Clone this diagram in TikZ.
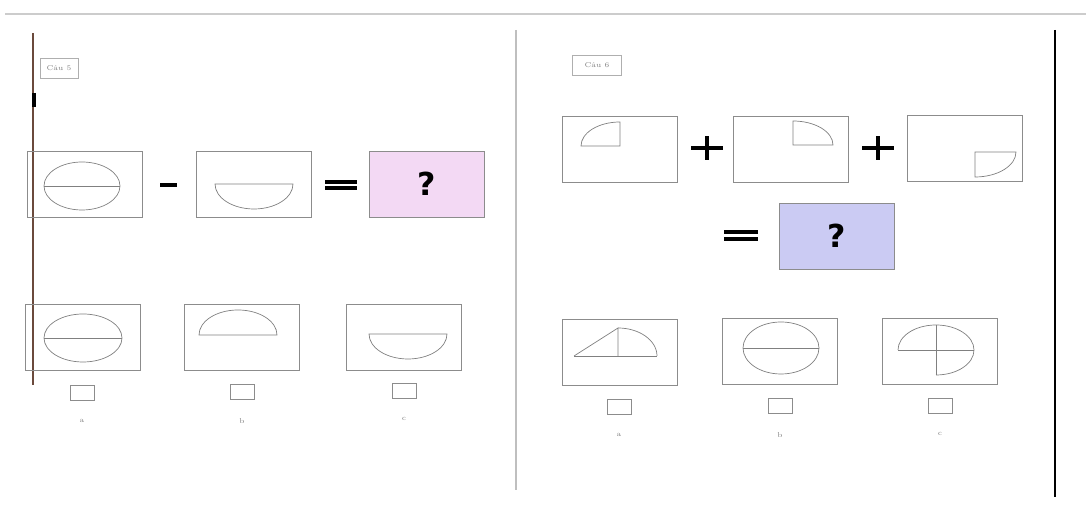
\documentclass[tikz,border=0pt]{standalone}
\usepackage{fontspec}
\usepackage{xcolor}
\usepackage{tikz}
\usetikzlibrary{positioning}
\newfontfamily\qfont{DejaVu Sans}

\definecolor{framegray}{HTML}{8C8C8C}
\definecolor{pinkfill}{HTML}{F3D9F4}
\definecolor{bluefill}{HTML}{CBCBF3}
\definecolor{brownline}{HTML}{6B4A3C}

\begin{document}
\begin{tikzpicture}[
x=0.02cm, y=0.02cm,
figbox/.style={
rectangle,
draw=framegray,
minimum width=2.3cm,
minimum height=1.32cm
},
qbox/.style={
figbox,
font=\qfont\bfseries\fontsize{18}{18}\selectfont
},
tickbox/.style={
rectangle,
draw=framegray,
minimum width=0.48cm,
minimum height=0.3cm
},
tag/.style={
rectangle,
draw=framegray!70,
minimum height=0.4cm,
font=\fontsize{4}{4}\selectfont,
text=gray
},
choice/.style={
font=\fontsize{4}{4}\selectfont,
text=gray
},
shape line/.style={
draw=gray,
thin
},
sign/.style={
line width=2.4pt
}
]
\useasboundingbox (0,0) rectangle (1086,513);

% frame lines
\coordinate (topl) at (5,499);
\coordinate (topr) at (1086,499);
\draw[gray!40, line width=0.6pt] (topl) -- (topr);
\coordinate (lt) at (33,480);
\coordinate (lb) at (33,128);
\draw[brownline, line width=1.5pt] (lt) -- (lb);
\coordinate (mt) at (34,420);
\coordinate (mb) at (34,406);
\draw[black, line width=2pt] (mt) -- (mb);
\coordinate (ct) at (516,483);
\coordinate (cb) at (516,23);
\draw[gray!50, line width=0.6pt] (ct) -- (cb);
\coordinate (rt) at (1055,483);
\coordinate (rb) at (1055,16);
\draw[black, line width=1.6pt] (rt) -- (rb);

% left panel
\node[tag, minimum width=0.76cm] (tag5) at (59,445) {Câu 5};

\node[figbox] (a1) at (85,329) {};
\node[figbox] (a2) at (254,329) {};
\node[qbox, fill=pinkfill] (aq) at (427,329) {?};
\draw[shape line] (82,327) ellipse[x radius=38, y radius=24];
\draw[shape line] (44,327) -- (120,327);
\draw[shape line] (215,329) arc[start angle=180, end angle=360, x radius=39, y radius=25] -- cycle;
\draw[sign] (160,328) -- (177,328);
\draw[sign] (325,331) -- (357,331);
\draw[sign] (325,325) -- (357,325);

\node[figbox] (a3) at (83,176) {};
\node[figbox] (a4) at (242,176) {};
\node[figbox] (a5) at (404,176) {};
\draw[shape line] (83,175) ellipse[x radius=39, y radius=24];
\draw[shape line] (44,175) -- (122,175);
\draw[shape line] (199,178) arc[start angle=180, end angle=0, x radius=39, y radius=25] -- cycle;
\draw[shape line] (369,179) arc[start angle=180, end angle=360, x radius=39, y radius=25] -- cycle;

\node[tickbox] (t1) at (82,120) {};
\node[tickbox] (t2) at (242,121) {};
\node[tickbox] (t3) at (404,122) {};
\node[choice, below=0.25cm of t1] (c1) {a};
\node[choice, below=0.25cm of t2] (c2) {b};
\node[choice, below=0.25cm of t3] (c3) {c};

% right panel
\node[tag, minimum width=0.98cm] (tag6) at (597,448) {Câu 6};

\node[figbox] (b1) at (620,364) {};
\node[figbox] (b2) at (791,364) {};
\node[figbox] (b3) at (965,365) {};
\draw[shape line] (620,367) -- (620,391) arc[start angle=90, end angle=180, x radius=39, y radius=24] -- cycle;
\draw[shape line] (793,368) -- (793,392) arc[start angle=90, end angle=0, x radius=40, y radius=24] -- cycle;
\draw[shape line] (975,361) -- (1016,361) arc[start angle=0, end angle=-90, x radius=41, y radius=25] -- cycle;
\draw[sign, line width=2pt] (691,365) -- (723,365);
\draw[sign, line width=2pt] (707,353) -- (707,377);
\draw[sign, line width=2pt] (862,365) -- (894,365);
\draw[sign, line width=2pt] (878,353) -- (878,377);
\draw[sign] (724,281) -- (758,281);
\draw[sign] (724,274) -- (758,274);
\node[qbox, fill=bluefill] (bq) at (837,277) {?};

\node[figbox] (b4) at (620,161) {};
\node[figbox] (b5) at (780,162) {};
\node[figbox] (b6) at (940,162) {};
\draw[shape line] (574,157) -- (618,185) -- (618,157);
\draw[shape line] (574,157) -- (657,157);
\draw[shape line] (618,185) arc[start angle=90, end angle=0, x radius=39, y radius=28];
\draw[shape line] (781,165) ellipse[x radius=38, y radius=26];
\draw[shape line] (743,165) -- (819,165);
\draw[shape line] (898,163) arc[start angle=180, end angle=0, x radius=38, y radius=25];
\draw[shape line] (898,163) -- (974,163);
\draw[shape line] (936,188) -- (936,138);
\draw[shape line] (974,163) arc[start angle=0, end angle=-90, x radius=38, y radius=25];

\node[tickbox] (t4) at (619,106) {};
\node[tickbox] (t5) at (780,107) {};
\node[tickbox] (t6) at (940,107) {};
\node[choice, below=0.25cm of t4] (c4) {a};
\node[choice, below=0.25cm of t5] (c5) {b};
\node[choice, below=0.25cm of t6] (c6) {c};

\end{tikzpicture}
\end{document}
